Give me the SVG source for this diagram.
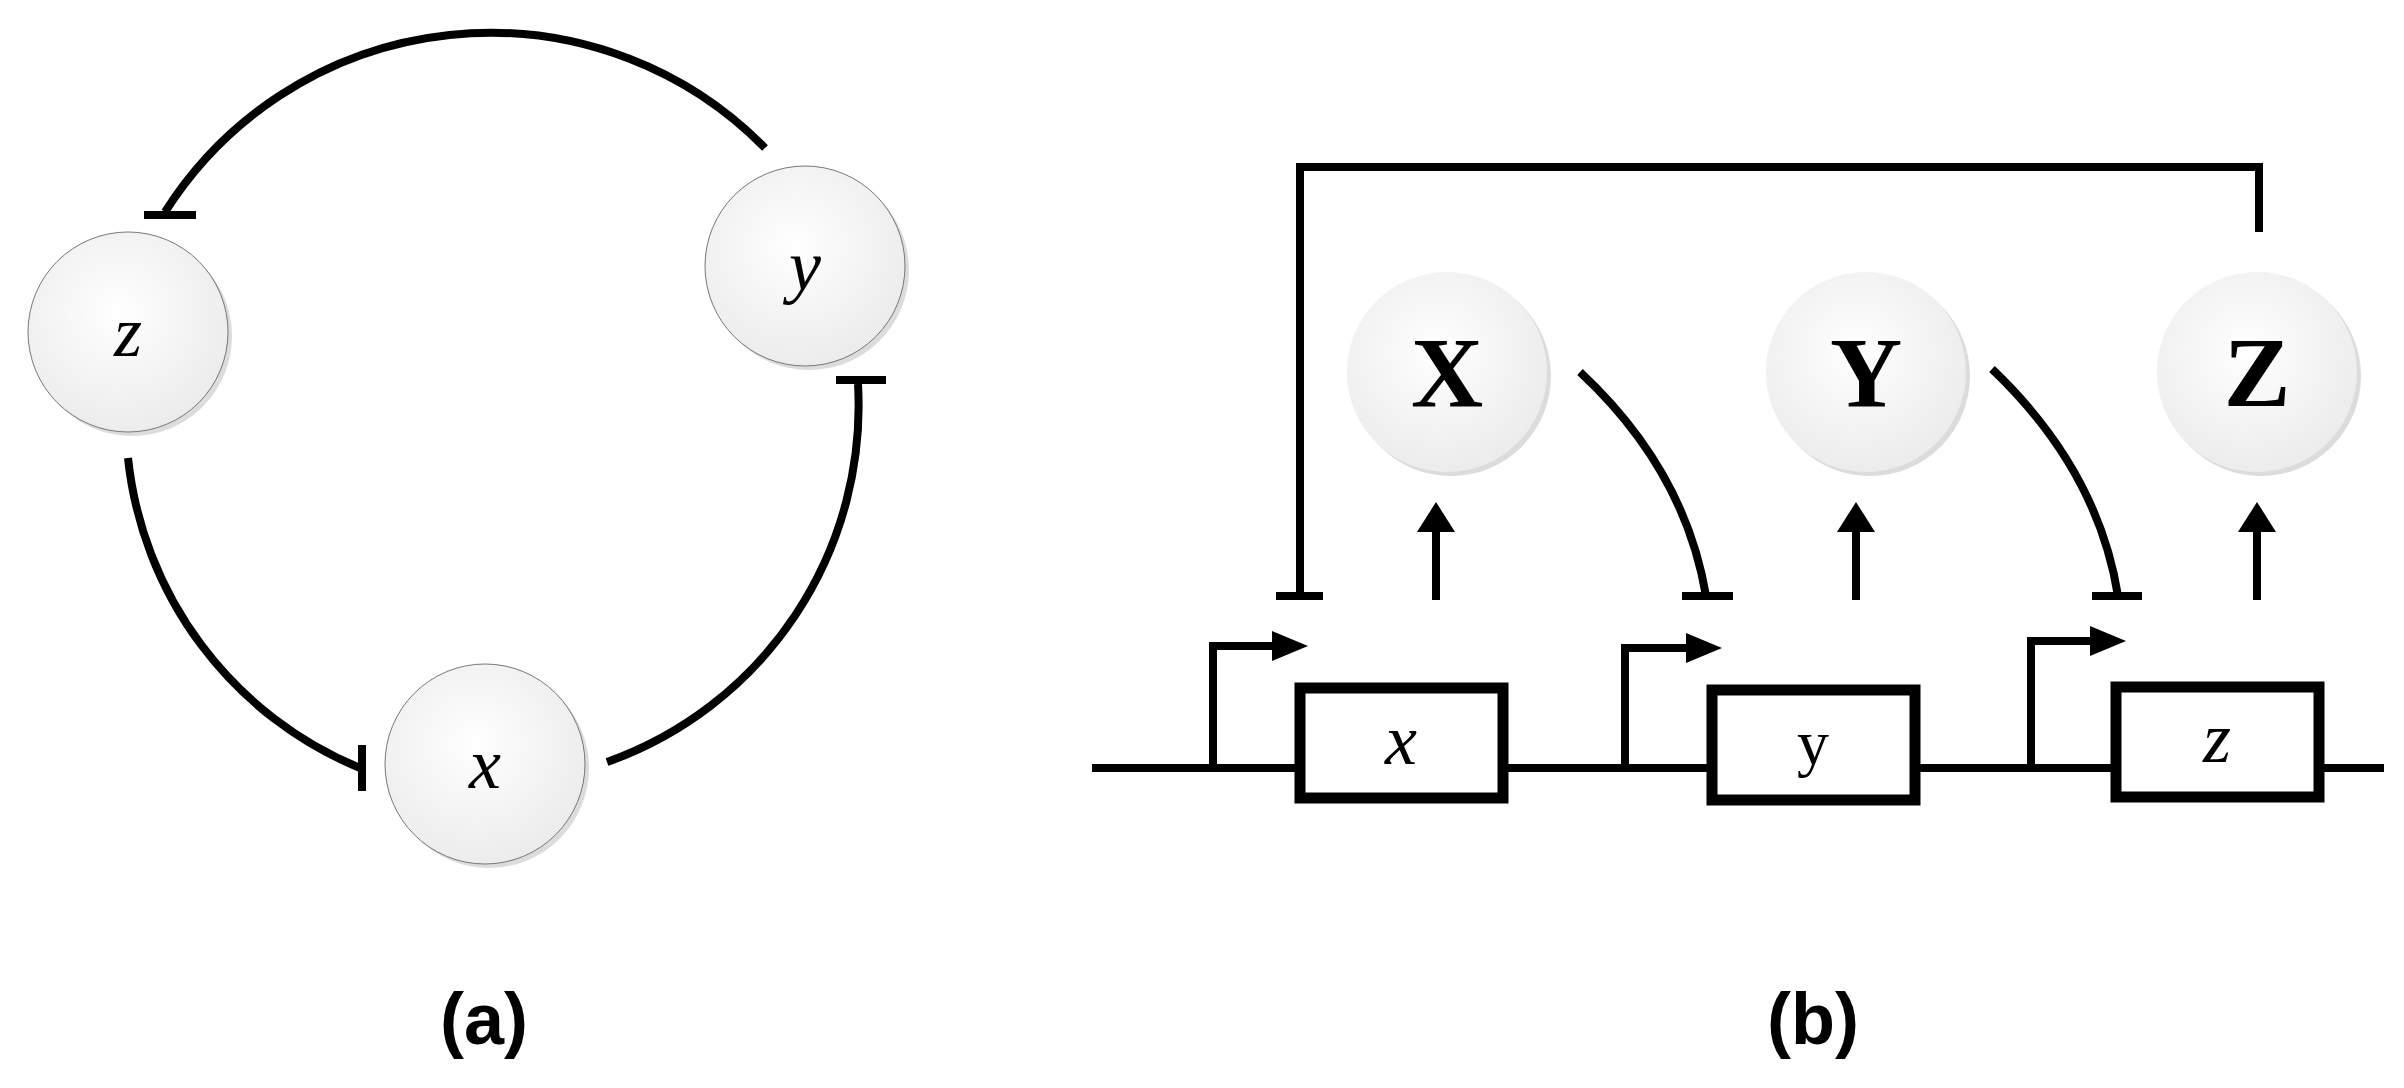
<svg xmlns="http://www.w3.org/2000/svg" width="2404" height="1088" viewBox="0 0 2404 1088">
<defs>
<radialGradient id="g" cx="0.45" cy="0.4" r="0.6"><stop offset="0" stop-color="#ffffff"/><stop offset="1" stop-color="#ececec"/></radialGradient>
<marker id="ah" markerWidth="36" markerHeight="30" refX="0" refY="15" orient="auto" markerUnits="userSpaceOnUse"><path d="M0,0 L36,15 L0,30 Z" fill="#000"/></marker>
<marker id="up" markerWidth="30" markerHeight="38" refX="2" refY="19" orient="auto" markerUnits="userSpaceOnUse"><path d="M0,0 L30,19 L0,38 Z" fill="#000"/></marker>
</defs>
<style>
.ln{fill:none;stroke:#000;stroke-width:8}
.nd{fill:url(#g);stroke:#777;stroke-width:1}
.pn{fill:url(#g);stroke:none}
.sh{fill:#dcdcdc}
.it{font-family:"Liberation Serif",serif;font-style:italic;font-size:72px;text-anchor:middle}
.bd{font-family:"Liberation Serif",serif;font-weight:bold;font-size:100px;text-anchor:middle}
.gl{font-family:"Liberation Serif",serif;font-size:64px;text-anchor:middle}
.lb{font-family:"Liberation Sans",sans-serif;font-weight:bold;font-size:72px;text-anchor:middle}
.box{fill:#fff;stroke:#000;stroke-width:11}
</style>
<g id="a-z"><circle class="sh" cx="132" cy="336" r="100"/><circle class="nd" cx="128" cy="332" r="100"/><text class="it" x="128" y="356">z</text></g>
<g id="a-y"><circle class="sh" cx="809" cy="270" r="100"/><circle class="nd" cx="805" cy="266" r="100"/><text class="it" x="805" y="290">y</text></g>
<g id="a-x"><circle class="sh" cx="489" cy="768" r="100"/><circle class="nd" cx="485" cy="764" r="100"/><text class="it" x="485" y="788">x</text></g>
<g id="b-X"><circle class="sh" cx="1451" cy="376" r="100"/><circle class="pn" cx="1447" cy="372" r="100"/><text class="bd" x="1447" y="406">X</text></g>
<g id="b-Y"><circle class="sh" cx="1870" cy="376" r="100"/><circle class="pn" cx="1866" cy="372" r="100"/><text class="bd" x="1866" y="406">Y</text></g>
<g id="b-Z"><circle class="sh" cx="2261" cy="376" r="100"/><circle class="pn" cx="2257" cy="372" r="100"/><text class="bd" x="2257" y="406">Z</text></g>
<g id="gene-x"><rect class="box" x="1300" y="688" width="203" height="110"/><text class="it" x="1401" y="764" font-size="64">x</text></g>
<g id="gene-y"><rect class="box" x="1712" y="690" width="203" height="110"/><text class="gl" x="1813" y="764">y</text></g>
<g id="gene-z"><rect class="box" x="2116" y="687" width="203" height="110"/><text class="it" x="2217" y="762" font-size="64">z</text></g>
<g id="connectors">
<path class="ln" d="M765,148 A385,385 0 0 0 165,212"/>
<path class="ln" d="M144,215 H196"/>
<path class="ln" d="M128,458 A378,378 0 0 0 360,768"/>
<path class="ln" d="M362,745 V791"/>
<path class="ln" d="M607,762 A378,378 0 0 0 858,384"/>
<path class="ln" d="M836,380 H886"/>
<path class="ln" d="M1300,596 V167 H2259 V232"/>
<path class="ln" d="M1276,596 H1323"/>
<path class="ln" d="M1580,372 Q1685,470 1706,596"/>
<path class="ln" d="M1682,596 H1733"/>
<path class="ln" d="M1992,369 Q2098,470 2118,596"/>
<path class="ln" d="M2092,596 H2142"/>
<path class="ln" d="M1436,600 V530" marker-end="url(#up)"/>
<path class="ln" d="M1856,600 V530" marker-end="url(#up)"/>
<path class="ln" d="M2257,600 V530" marker-end="url(#up)"/>
<path class="ln" d="M1092,768 H1300 M1503,768 H1712 M1915,768 H2116 M2319,768 H2384"/>
<path class="ln" d="M1213,768 V646 H1272" marker-end="url(#ah)"/>
<path class="ln" d="M1625,768 V648 H1686" marker-end="url(#ah)"/>
<path class="ln" d="M2031,768 V641 H2090" marker-end="url(#ah)"/>
</g>
<text class="lb" x="484" y="1044">(a)</text>
<text class="lb" x="1813" y="1044">(b)</text>
</svg>
